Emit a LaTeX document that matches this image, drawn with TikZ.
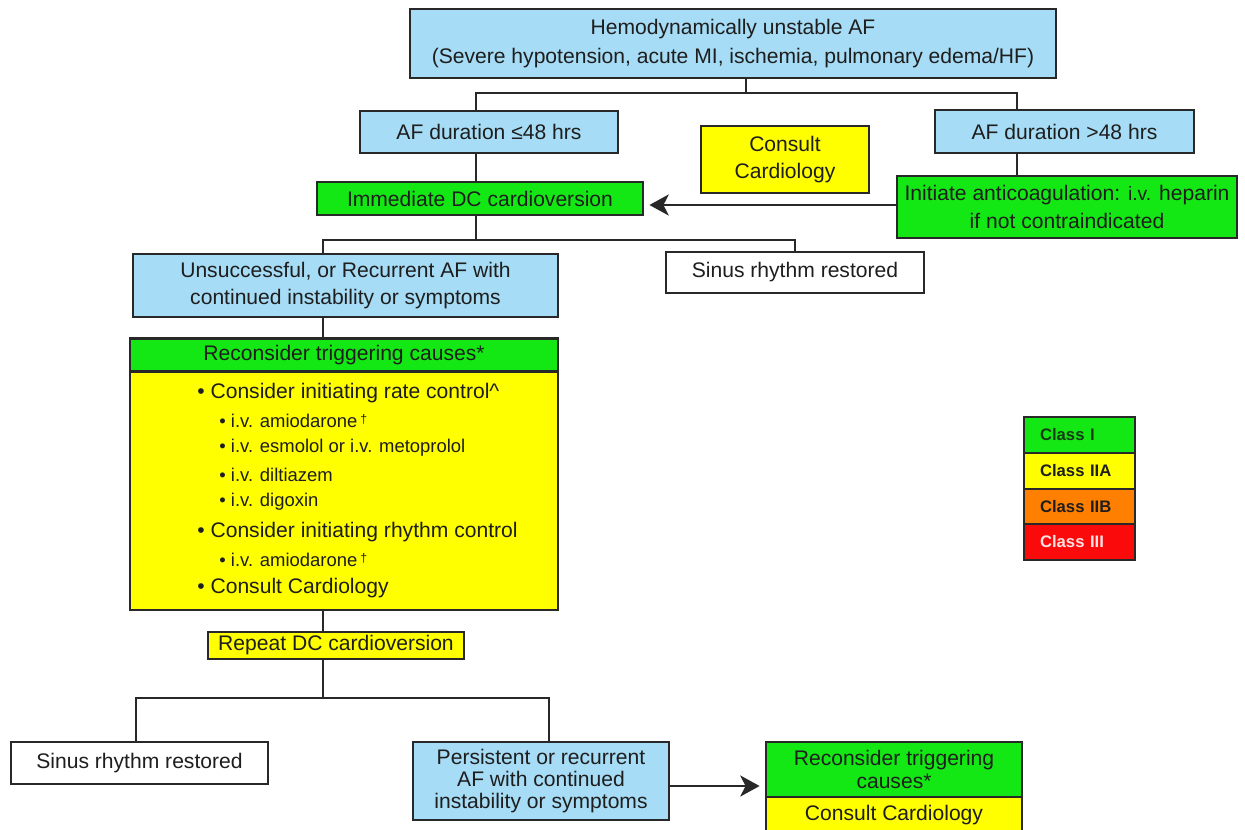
\documentclass[tikz,border=0pt]{standalone}
\usepackage{fontspec}
\setmainfont{Liberation Sans}
\usetikzlibrary{arrows.meta,calc}
\definecolor{cblue}{RGB}{166,220,245}
\definecolor{cgreen}{RGB}{20,232,20}
\definecolor{cyellow}{RGB}{255,255,0}
\definecolor{corange}{RGB}{255,128,0}
\definecolor{cred}{RGB}{250,10,10}
\definecolor{cline}{RGB}{40,40,40}
\definecolor{ctext}{RGB}{30,30,30}
\definecolor{cdgreen}{RGB}{20,60,20}
\definecolor{cpink}{RGB}{255,225,225}
\tikzset{
  wh/.style 2 args={minimum width=#1*0.02cm, minimum height=#2*0.02cm},
  box/.style={draw=cline, line width=1.3pt, inner sep=0pt, align=center, text=ctext,
    font=\fontsize{12}{15.5}\selectfont},
  bluebox/.style={box, fill=cblue},
  greenbox/.style={box, fill=cgreen},
  yellowbox/.style={box, fill=cyellow},
  whitebox/.style={box, fill=white},
  conn/.style={draw=cline, line width=1.2pt},
  arr/.style={conn, -{Stealth[length=11pt,width=12pt,inset=3pt]}, shorten >=3pt},
  mainitem/.style={anchor=west, inner sep=0pt, text=ctext, font=\fontsize{12}{14}\selectfont},
  subitem/.style={anchor=west, inner sep=0pt, text=ctext, font=\fontsize{10.5}{12}\selectfont},
  legend/.style={draw=cline, line width=1.1pt, minimum width=111*0.02cm, text width=79*0.02cm, inner xsep=16*0.02cm,
    align=left, font=\bfseries\fontsize{9.5}{11}\selectfont},
}
\newcommand{\mydag}{\raisebox{2.5pt}{\fontsize{7}{7}\selectfont †}}
\begin{document}
\begin{tikzpicture}[x=0.02cm,y=-0.02cm]
\useasboundingbox (0,0) rectangle (1245,829);
% nodes
\node[bluebox, wh={646}{69}, font=\fontsize{12}{16}\selectfont] (top) at (733,43.5) {Hemodynamically unstable AF\\(Severe hypotension, acute MI, ischemia, pulmonary edema/HF)};
\node[bluebox, wh={258}{42}] (le48) at (489,132) {AF duration ≤48 hrs};
\node[yellowbox, wh={168}{67}] (consult) at (785,159.5) {Consult\\Cardiology};
\node[bluebox, wh={259}{43}] (gt48) at (1064.5,131.5) {AF duration >48 hrs};
\node[greenbox, wh={326}{33}] (dc) at (480,198.5) {Immediate DC cardioversion};
\node[greenbox, wh={340}{62}] (anticoag) at (1067,207) {Initiate anticoagulation: {\fontsize{11}{13}\selectfont i.v.} heparin\\if not contraindicated};
\node[bluebox, wh={425}{63}] (unsucc) at (345.5,285.5) {Unsuccessful, or Recurrent AF with\\continued instability or symptoms};
\node[whitebox, wh={258}{41}] (sinus1) at (795,272.5) {Sinus rhythm restored};
\node[greenbox, wh={428}{33}] (recH) at (344,355) {Reconsider triggering causes*};
\node[yellowbox, wh={428}{238}] (recB) at (344,491) {};
\node[yellowbox, wh={256}{27}] (repeat) at (336,645.5) {Repeat DC cardioversion};
\node[whitebox, wh={257}{42}] (sinus2) at (139.5,763) {Sinus rhythm restored};
\node[bluebox, wh={256}{78}, font=\fontsize{12}{12.3}\selectfont] (persist) at (541,781) {Persistent or recurrent\\AF with continued\\instability or symptoms};
\node[greenbox, wh={256}{55}, font=\fontsize{12}{13}\selectfont] (rec2H) at (894,769.5) {Reconsider triggering\\causes*};
\node[yellowbox, wh={256}{36}] (rec2B) at (894,815) {Consult Cardiology};
% list inside recB
\node[mainitem] (m1) at (197,393) {• Consider initiating rate control\textasciicircum};
\node[subitem] (s1) at (219,421) {• i.v. amiodarone\,\mydag};
\node[subitem] (s2) at (219,448) {• i.v. esmolol or i.v. metoprolol};
\node[subitem] (s3) at (219,475) {• i.v. diltiazem};
\node[subitem] (s4) at (219,502) {• i.v. digoxin};
\node[mainitem] (m2) at (197,532) {• Consider initiating rhythm control};
\node[subitem] (s5) at (219,560) {• i.v. amiodarone\,\mydag};
\node[mainitem] (m3) at (197,588) {• Consult Cardiology};
% legend
\node[legend, fill=cgreen, text=cdgreen, minimum height=36*0.02cm] (l1) at (1079.5,435) {Class I};
\node[legend, fill=cyellow, text=ctext, minimum height=36*0.02cm] (l2) at (1079.5,471) {Class IIA};
\node[legend, fill=corange, text=ctext, minimum height=35*0.02cm] (l3) at (1079.5,506.5) {Class IIB};
\node[legend, fill=cred, text=cpink, minimum height=36*0.02cm] (l4) at (1079.5,542) {Class III};
% connectors
\coordinate (j1) at (746,93);
\coordinate (j2) at (476,240);
\coordinate (j3) at (323,698);
\coordinate (cx) at (323,0);
\coordinate (xl) at (136,0);
\coordinate (xr) at (549,0);
\coordinate (xd) at (476,0);
\coordinate (xg) at (1017,0);
\coordinate (xt) at (746,0);
\draw[conn] (xt |- top.south) -- (j1);
\draw[conn] (xd |- le48.north) |- (j1) -| (xg |- gt48.north);
\draw[conn] (xd |- le48.south) -- (xd |- dc.north);
\draw[conn] (xg |- gt48.south) -- (xg |- anticoag.north);
\draw[arr] ([yshift=0.04cm]anticoag.west) -- ([yshift=0.04cm]anticoag.west -| dc.east);
\draw[conn] (xd |- dc.south) -- (j2);
\draw[conn] (cx |- unsucc.north) |- (j2) -| (sinus1.north);
\draw[conn] (cx |- unsucc.south) -- (cx |- recH.north);
\draw[conn] (cx |- recB.south) -- (cx |- repeat.north);
\draw[conn] (cx |- repeat.south) -- (j3);
\draw[conn] (xl |- sinus2.north) |- (j3) -| (xr |- persist.north);
\draw[arr] ([yshift=-0.1cm]persist.east) -- ([yshift=-0.1cm]persist.east -| rec2H.west);
\end{tikzpicture}
\end{document}
